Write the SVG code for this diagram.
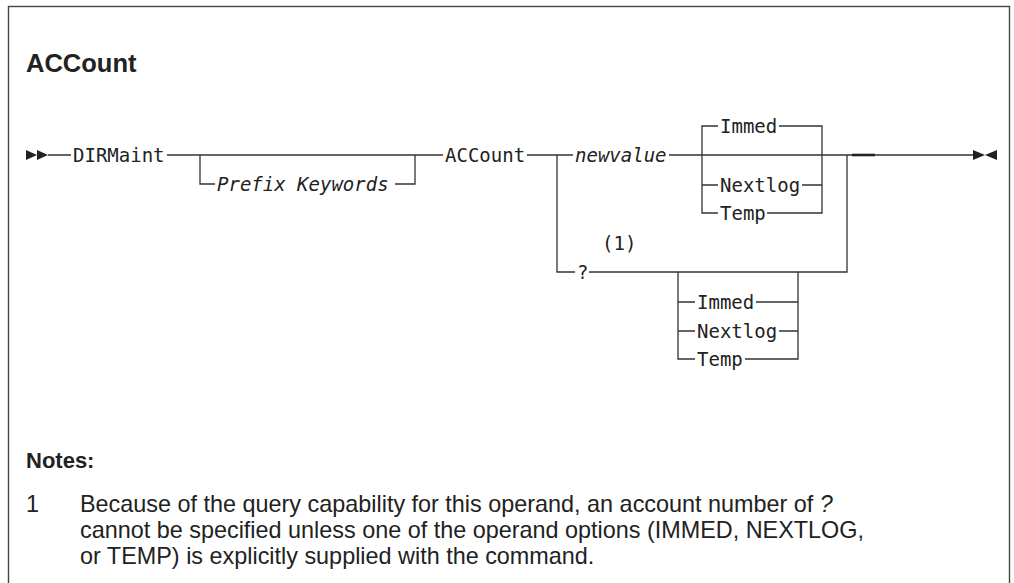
<svg xmlns="http://www.w3.org/2000/svg" width="1014" height="583" viewBox="0 0 1014 583">
<style>
.ln{fill:none;stroke:#333;stroke-width:1.3}
.mono{font-family:"DejaVu Sans Mono","Liberation Mono",monospace;font-size:19px;fill:#222}
.it{font-style:italic}
.sans{font-family:"Liberation Sans",Arial,sans-serif;fill:#222}
.note{font-size:23.4px}
.arr{fill:#222}
</style>
<rect x="8.5" y="6.5" width="1001" height="620" fill="#fff" stroke="#444" stroke-width="1.4"/>
<text class="sans" x="26" y="72" font-size="25.5" font-weight="bold">ACCount</text>
<g id="connectors">
<path class="ln" d="M48,155 H71 M167,155 H443 M527,155 H573 M669,155 H973"/>
<path d="M852,155 H875" stroke="#222" stroke-width="2.6"/>
<path class="ln" d="M200,155 V184 H215 M395,184 H415 V155"/>
<path class="ln" d="M557,155 V272 H575 M589,272 H847 V155"/>
<path class="ln" d="M718,126 H702 V213 H718 M702,185 H718 M779,126 H822 V213 H767 M802,185 H822"/>
<path class="ln" d="M678,272 V359 H695 M678,302 H695 M678,331 H695 M756,302 H798 M779,331 H798 M745,359 H798 V272"/>
</g>
<g id="start"><polygon class="arr" points="26,150 26,160 37,155"/><polygon class="arr" points="37,150 37,160 48,155"/></g>
<g id="end"><polygon class="arr" points="973,150 973,160 985,155"/><polygon class="arr" points="997,150 997,160 985,155"/></g>
<g id="dirmaint"><text class="mono" x="73" y="162">DIRMaint</text></g>
<g id="prefix"><text class="mono it" x="217" y="191">Prefix Keywords</text></g>
<g id="account"><text class="mono" x="445" y="162">ACCount</text></g>
<g id="newvalue"><text class="mono it" x="575" y="162">newvalue</text></g>
<g id="opt1-immed"><text class="mono" x="720" y="133">Immed</text></g>
<g id="opt1-nextlog"><text class="mono" x="720" y="192">Nextlog</text></g>
<g id="opt1-temp"><text class="mono" x="720" y="220">Temp</text></g>
<g id="query"><text class="mono" x="602" y="250">(1)</text><text class="mono" x="577" y="279">?</text></g>
<g id="opt2-immed"><text class="mono" x="697" y="309">Immed</text></g>
<g id="opt2-nextlog"><text class="mono" x="697" y="338">Nextlog</text></g>
<g id="opt2-temp"><text class="mono" x="697" y="366">Temp</text></g>
<g id="notes">
<text class="sans" x="26" y="468" font-size="22" font-weight="bold">Notes:</text>
<text class="sans note" x="26" y="512">1</text>
<text class="sans note" x="80" y="512">Because of the query capability for this operand, an account number of <tspan font-style="italic">?</tspan></text>
<text class="sans note" x="80" y="538">cannot be specified unless one of the operand options (IMMED, NEXTLOG,</text>
<text class="sans note" x="80" y="564">or TEMP) is explicitly supplied with the command.</text>
</g>
</svg>
